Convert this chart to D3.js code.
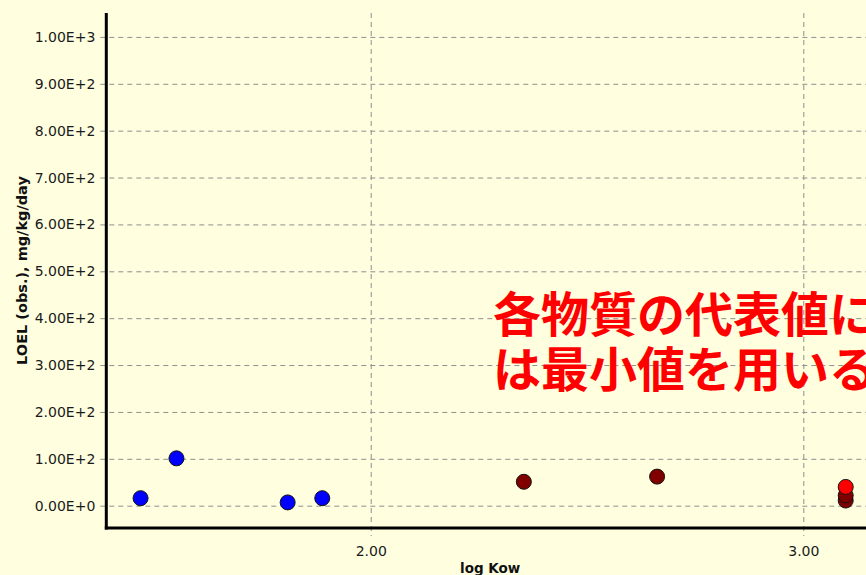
<!DOCTYPE html>
<html>
<head>
<meta charset="utf-8">
<script src="https://cdn.jsdelivr.net/npm/d3@7"></script>
<style>
  html, body { margin: 0; padding: 0; background: #FFFFE0; }
  svg { display: block; }
</style>
</head>
<body>
<svg id="chart" width="866" height="575"></svg>
<script>
// LOEL (observed) against log Kow, one point per substance
const blueKow   = [1.468, 1.551, 1.808, 1.888];
const blueLoel  = [16, 101, 7, 16];
const maroonKow  = [2.354, 2.662, 3.098, 3.098];
const maroonLoel = [51, 62, 11, 22];
const redKow   = [3.098];
const redLoel  = [40];

const yTicks = [0, 100, 200, 300, 400, 500, 600, 700, 800, 900, 1000];
const xTicks = [2.0, 3.0];
const xTitle = "log Kow";
const yTitle = "LOEL (obs.), mg/kg/day";
const noteLines = ["各物質の代表値に", "は最小値を用いる"];

const series = [
  { kow: blueKow,   loel: blueLoel,   color: "#0000FF" },
  { kow: maroonKow, loel: maroonLoel, color: "#800000" },
  { kow: redKow,    loel: redLoel,    color: "#FF0000" }
];

const svg = d3.select("#chart");
const W = 866, H = 575;
const plot = { left: 106.3, right: 874, top: 13, bottom: 528 };

svg.append("rect").attr("width", W).attr("height", H).attr("fill", "#FFFFE0");

const x = d3.scaleLinear().domain([1.3888, 3.1634]).range([plot.left, plot.right]);
const y = d3.scaleLinear().domain([-47.6, 1051]).range([plot.bottom, plot.top]);

const gridColor = "#8e8e8e";
const dash = "5,4";

// horizontal grid + y ticks
const yAxis = d3.axisLeft(y)
  .tickValues(yTicks)
  .tickSize(-(W - plot.left))
  .tickPadding(11)
  .tickFormat(d => d3.format(".2e")(d).toUpperCase());
const gy = svg.append("g").attr("transform", `translate(${plot.left},0)`).call(yAxis);
gy.select(".domain").remove();
gy.selectAll(".tick line")
  .attr("x1", -6)
  .attr("stroke", gridColor)
  .attr("stroke-dasharray", dash);
gy.selectAll(".tick text")
  .attr("font-family", "DejaVu Sans, Verdana, sans-serif")
  .attr("font-size", 14)
  .attr("fill", "#1a1a1a");

// vertical grid + x ticks
const xAxis = d3.axisBottom(x)
  .tickValues(xTicks)
  .tickSize(-(plot.bottom - plot.top))
  .tickPadding(18)
  .tickFormat(d3.format(".2f"));
const gx = svg.append("g").attr("transform", `translate(0,${plot.bottom})`).call(xAxis);
gx.select(".domain").remove();
gx.selectAll(".tick line")
  .attr("y2", 8)
  .attr("y1", -(plot.bottom - plot.top))
  .attr("stroke", gridColor)
  .attr("stroke-dasharray", dash);
gx.selectAll(".tick text")
  .attr("font-family", "DejaVu Sans, Verdana, sans-serif")
  .attr("font-size", 14)
  .attr("fill", "#1a1a1a");

// axis lines
svg.append("line")
  .attr("x1", plot.left).attr("x2", plot.left)
  .attr("y1", plot.top).attr("y2", plot.bottom + 1.5)
  .attr("stroke", "#000").attr("stroke-width", 3);
svg.append("line")
  .attr("x1", plot.left - 1.5).attr("x2", W)
  .attr("y1", plot.bottom).attr("y2", plot.bottom)
  .attr("stroke", "#000").attr("stroke-width", 3);

// axis titles
svg.append("text")
  .attr("x", (plot.left + plot.right) / 2)
  .attr("y", 573)
  .attr("text-anchor", "middle")
  .attr("font-family", "DejaVu Sans, Verdana, sans-serif")
  .attr("font-weight", "bold")
  .attr("font-size", 13.5)
  .attr("fill", "#111")
  .text(xTitle);

svg.append("text")
  .attr("transform", `translate(27,${(plot.top + plot.bottom) / 2}) rotate(-90)`)
  .attr("text-anchor", "middle")
  .attr("font-family", "DejaVu Sans, Verdana, sans-serif")
  .attr("font-weight", "bold")
  .attr("font-size", 14.5)
  .attr("fill", "#111")
  .text(yTitle);

// points
series.forEach(s => {
  svg.append("g").selectAll("circle")
    .data(s.kow.map((k, i) => [k, s.loel[i]]))
    .join("circle")
    .attr("cx", d => x(d[0]))
    .attr("cy", d => y(d[1]))
    .attr("r", 7.5)
    .attr("fill", s.color)
    .attr("stroke", "#111")
    .attr("stroke-width", 1);
});

// annotation
const note = svg.append("text")
  .attr("font-family", "'Noto Sans CJK JP', sans-serif")
  .attr("font-weight", "bold")
  .attr("font-size", 48)
  .attr("fill", "#FF0000");
noteLines.forEach((t, i) => {
  note.append("tspan")
    .attr("x", 493)
    .attr("y", 331.5 + i * 55)
    .text(t);
});
</script>
</body>
</html>
